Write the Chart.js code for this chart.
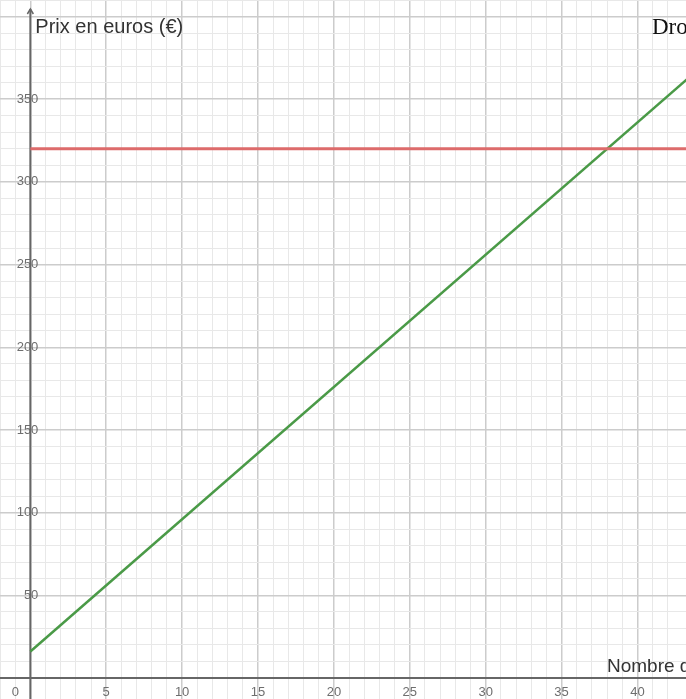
<!DOCTYPE html>
<html>
<head>
<meta charset="utf-8">
<script src="https://cdn.jsdelivr.net/npm/chart.js@4.4.0/dist/chart.umd.min.js"></script>
<style>
  html, body { margin: 0; padding: 0; background: #fff; }
  #wrap { width: 686px; height: 699px; position: relative; }
</style>
</head>
<body>
<div id="wrap"><canvas id="graph"></canvas></div>
<script>
// values
const xTickValues = [0, 5, 10, 15, 20, 25, 30, 35, 40];
const xTickLabels = ['0', '5', '10', '15', '20', '25', '30', '35', '40'];
const yTickValues = [50, 100, 150, 200, 250, 300, 350];
const yTickLabels = ['50', '100', '150', '200', '250', '300', '350'];

const greenX = [0, 44];
const greenY = [16, 368];
const redX = [0, 44];
const redY = [320, 320];

const yTitle = 'Prix en euros (€)';
const xTitle = 'Nombre d';
const cornerText = 'Dro';

const toPoints = (xs, ys) => xs.map((x, i) => ({ x: x, y: ys[i] }));

// axes, arrow and tick labels, drawn with the chart's own scales
const axesPlugin = {
  id: 'axes',
  beforeDatasetsDraw(chart) {
    const ctx = chart.ctx;
    const sx = chart.scales.x, sy = chart.scales.y;
    const x0 = sx.getPixelForValue(0), y0 = sy.getPixelForValue(0);
    ctx.save();

    ctx.fillStyle = '#6e6e6e';
    ctx.font = '13px "Liberation Sans", Arial, sans-serif';
    ctx.textBaseline = 'middle';
    ctx.textAlign = 'center';
    xTickValues.forEach((v, i) => {
      let px = sx.getPixelForValue(v);
      if (v === 0) px -= 15;
      ctx.fillText(xTickLabels[i], px, y0 + 14);
    });
    ctx.textAlign = 'right';
    yTickValues.forEach((v, i) => {
      ctx.fillText(yTickLabels[i], x0 + 8, sy.getPixelForValue(v));
    });

    ctx.strokeStyle = '#666';
    ctx.lineWidth = 2;
    ctx.beginPath();
    ctx.moveTo(x0, chart.chartArea.bottom);
    ctx.lineTo(x0, 9);
    ctx.moveTo(chart.chartArea.left, y0);
    ctx.lineTo(chart.chartArea.right, y0);
    ctx.stroke();
    ctx.lineWidth = 1.5;
    ctx.beginPath();
    ctx.moveTo(x0 - 3, 14);
    ctx.lineTo(x0, 9);
    ctx.lineTo(x0 + 3, 14);
    ctx.stroke();

    ctx.textBaseline = 'alphabetic';
    ctx.textAlign = 'left';
    ctx.fillStyle = '#333';
    ctx.font = '20px "Liberation Sans", Arial, sans-serif';
    ctx.fillText(yTitle, x0 + 5, 33);
    ctx.font = '19px "Liberation Sans", Arial, sans-serif';
    ctx.fillText(xTitle, 607, 672);
    ctx.fillStyle = '#111';
    ctx.font = '23px "Liberation Serif", "Times New Roman", serif';
    ctx.fillText(cornerText, 652, 34);
    ctx.restore();
  }
};

new Chart(document.getElementById('graph'), {
  type: 'scatter',
  data: {
    datasets: [
      {
        data: toPoints(redX, redY),
        showLine: true,
        borderColor: '#dd6b6b',
        borderWidth: 3,
        pointRadius: 0
      },
      {
        data: toPoints(greenX, greenY),
        showLine: true,
        borderColor: '#4a9a47',
        borderWidth: 2.5,
        pointRadius: 0
      }
    ]
  },
  options: {
    responsive: true,
    maintainAspectRatio: false,
    animation: false,
    layout: { padding: 0 },
    plugins: { legend: { display: false }, tooltip: { enabled: false } },
    scales: {
      x: {
        type: 'linear',
        min: -2,
        max: 43.2,
        border: { display: false },
        ticks: { display: false, stepSize: 1 },
        grid: {
          drawTicks: false,
          color: c => (c.tick.value % 5 === 0 ? '#cccccc' : '#e8e8e8'),
          lineWidth: c => (c.tick.value % 5 === 0 ? 1.5 : 1)
        }
      },
      y: {
        type: 'linear',
        min: -12.7,
        max: 410,
        border: { display: false },
        ticks: { display: false, stepSize: 10 },
        grid: {
          drawTicks: false,
          color: c => (c.tick.value % 50 === 0 ? '#cccccc' : '#e8e8e8'),
          lineWidth: c => (c.tick.value % 50 === 0 ? 1.5 : 1)
        }
      }
    }
  },
  plugins: [axesPlugin]
});
</script>
</body>
</html>
